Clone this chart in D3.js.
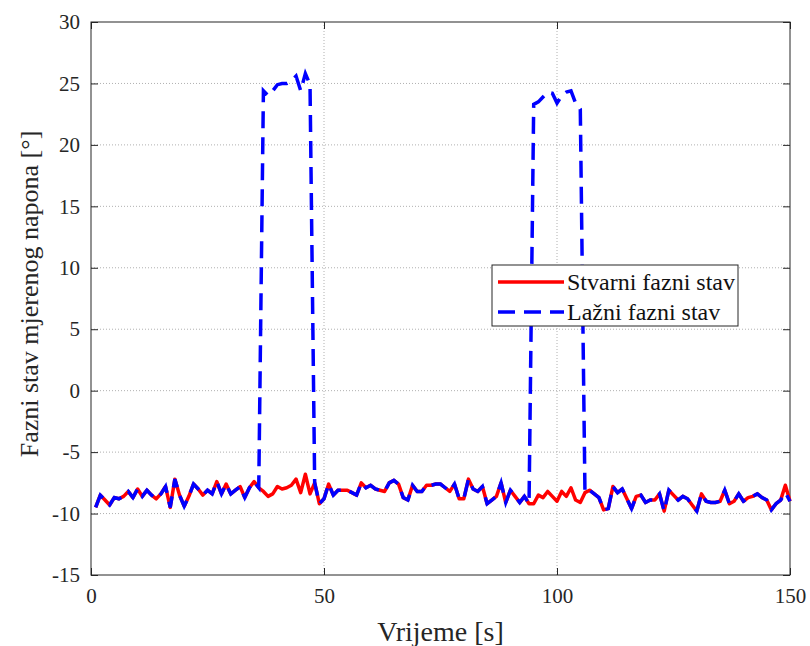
<!DOCTYPE html>
<html><head><meta charset="utf-8">
<script src="https://cdn.jsdelivr.net/npm/d3@7"></script>
<style>body{margin:0;background:#fff}svg{display:block}</style>
</head><body>
<script>
// time samples [s]
const times = [
 1,2,3,4,5,6,7,8,9,10,11,12,13,14,15,16,17,18,19,20,21,22,23,24,25,26,27,28,29,30,
 31,32,33,34,35,36,37,38,39,40,41,42,43,44,45,46,47,48,49,50,51,52,53,54,55,56,57,58,59,60,
 61,62,63,64,65,66,67,68,69,70,71,72,73,74,75,76,77,78,79,80,81,82,83,84,85,86,87,88,89,90,
 91,92,93,94,95,96,97,98,99,100,101,102,103,104,105,106,107,108,109,110,111,112,113,114,115,116,117,118,119,120,
 121,122,123,124,125,126,127,128,129,130,131,132,133,134,135,136,137,138,139,140,141,142,143,144,145,146,147,148,149,150];
// Stvarni fazni stav (true phase angle)
const stvarni = [
 -9.5,-8.5,-8.9,-9.3,-8.7,-8.8,-8.6,-8.2,-8.7,-8.0,-8.6,-8.1,-8.5,-8.8,-8.4,-7.8,-9.5,-7.2,-8.5,-9.4,
 -8.6,-7.6,-8.0,-8.5,-8.1,-8.4,-7.4,-8.4,-7.6,-8.4,-8.1,-7.8,-8.7,-7.9,-7.4,-7.9,-8.2,-8.6,-8.4,-7.8,
 -8.0,-7.9,-7.7,-7.2,-8.3,-6.8,-8.4,-7.5,-9.2,-8.8,-7.6,-8.5,-8.1,-8.1,-8.1,-8.3,-8.5,-7.5,-7.9,-7.7,
 -8.0,-8.1,-8.2,-7.5,-7.3,-7.6,-8.7,-8.9,-7.7,-8.2,-8.2,-7.7,-7.7,-7.6,-7.6,-7.9,-8.2,-7.6,-8.8,-8.8,
 -7.2,-8.0,-8.2,-7.8,-9.2,-8.9,-8.6,-7.5,-9.1,-8.1,-8.6,-9.1,-8.6,-9.2,-9.2,-8.5,-8.7,-8.2,-8.6,-9.0,
 -8.2,-8.6,-7.9,-8.9,-9.1,-8.3,-8.1,-8.4,-8.7,-9.7,-9.6,-7.8,-8.3,-8.0,-8.8,-9.6,-8.6,-8.5,-9.1,-8.9,
 -8.9,-8.4,-9.8,-8.1,-8.5,-8.9,-8.6,-8.8,-9.3,-9.8,-8.4,-9.0,-9.1,-9.1,-9.0,-8.1,-9.2,-9.0,-8.4,-9.0,
 -8.7,-8.6,-8.4,-8.7,-8.9,-9.7,-9.2,-8.9,-7.7,-9.0];
// Lažni fazni stav (falsified phase angle)
const lazni = [
 -9.5,-8.5,-8.9,-9.3,-8.7,-8.8,-8.6,-8.2,-8.7,-8.0,-8.6,-8.1,-8.5,-8.8,-8.4,-7.8,-9.5,-7.2,-8.5,-9.4,
 -8.6,-7.6,-8.0,-8.5,-8.1,-8.4,-7.4,-8.4,-7.6,-8.4,-8.1,-7.8,-8.7,-7.9,-7.4,-7.9,24.4,24.0,24.4,24.9,
 25.0,25.0,25.2,25.6,24.4,25.8,24.9,-7.5,-9.2,-8.8,-7.6,-8.5,-8.1,-8.1,-8.1,-8.3,-8.5,-7.5,-7.9,-7.7,
 -8.0,-8.1,-8.2,-7.5,-7.3,-7.6,-8.7,-8.9,-7.7,-8.2,-8.2,-7.7,-7.7,-7.6,-7.6,-7.9,-8.2,-7.6,-8.8,-8.8,
 -7.2,-8.0,-8.2,-7.8,-9.2,-8.9,-8.6,-7.5,-9.1,-8.1,-8.6,-9.1,-8.6,-9.2,23.3,23.5,23.9,24.3,24.2,23.4,
 24.0,24.3,24.4,23.4,22.9,-8.3,-8.1,-8.4,-8.7,-9.7,-9.6,-7.8,-8.3,-8.0,-8.8,-9.6,-8.6,-8.5,-9.1,-8.9,
 -8.9,-8.4,-9.8,-8.1,-8.5,-8.9,-8.6,-8.8,-9.3,-9.8,-8.4,-9.0,-9.1,-9.1,-9.0,-8.1,-9.2,-9.0,-8.4,-9.0,
 -8.7,-8.6,-8.4,-8.7,-8.9,-9.7,-9.2,-8.9,-8.3,-9.0];
const xTicks = [0, 50, 100, 150];
const yTicks = [-15, -10, -5, 0, 5, 10, 15, 20, 25, 30];
const seriesNames = ["Stvarni fazni stav", "Lažni fazni stav"];
const xTitle = "Vrijeme [s]";
const yTitle = "Fazni stav mjerenog napona [°]";

const W = 810, H = 646;
const m = {left: 91, right: 20, top: 22, bottom: 71};
const iw = W - m.left - m.right, ih = H - m.top - m.bottom;
const font = "Liberation Serif";

const svg = d3.select("body").append("svg").attr("width", W).attr("height", H)
  .attr("font-family", font);
const g = svg.append("g").attr("transform", `translate(${m.left},${m.top})`);

const x = d3.scaleLinear().domain([0, 150]).range([0, iw]);
const y = d3.scaleLinear().domain([-15, 30]).range([ih, 0]);

// grid
g.append("g").selectAll("line").data(xTicks.slice(1, -1)).join("line")
  .attr("x1", d => x(d)).attr("x2", d => x(d)).attr("y1", 0).attr("y2", ih)
  .attr("stroke", "#b0b0b0").attr("stroke-width", 1).attr("stroke-dasharray", "1,2");
g.append("g").selectAll("line").data(yTicks.slice(1, -1)).join("line")
  .attr("y1", d => y(d)).attr("y2", d => y(d)).attr("x1", 0).attr("x2", iw)
  .attr("stroke", "#b0b0b0").attr("stroke-width", 1).attr("stroke-dasharray", "1,2");

// axes
const tickStyle = sel => {
  sel.attr("font-family", font).attr("font-size", 21);
  sel.select(".domain").remove();
  sel.selectAll(".tick line").attr("stroke", "#262626");
  sel.selectAll(".tick text").attr("fill", "#262626").attr("font-family", font);
};
g.append("g").attr("transform", `translate(0,${ih})`)
  .call(d3.axisBottom(x).tickValues(xTicks).tickSize(-7).tickPadding(13).tickFormat(d3.format("d")))
  .call(tickStyle);
g.append("g")
  .call(d3.axisLeft(y).tickValues(yTicks).tickSize(-7).tickPadding(11).tickFormat(d => d < 0 ? "-" + Math.abs(d) : d))
  .call(tickStyle);
g.append("g").call(d3.axisTop(x).tickValues(xTicks).tickSize(-7).tickFormat(""))
  .call(s => { s.select(".domain").remove(); s.selectAll(".tick line").attr("stroke", "#262626"); });
g.append("g").attr("transform", `translate(${iw},0)`)
  .call(d3.axisRight(y).tickValues(yTicks).tickSize(-7).tickFormat(""))
  .call(s => { s.select(".domain").remove(); s.selectAll(".tick line").attr("stroke", "#262626"); });

// box
g.append("rect").attr("width", iw).attr("height", ih).attr("fill", "none")
  .attr("stroke", "#262626").attr("stroke-width", 1);

// lines
const line = vals => d3.line().x((d, i) => x(times[i])).y(d => y(d))(vals);
g.append("path").attr("d", line(stvarni)).attr("fill", "none")
  .attr("stroke", "#ff0000").attr("stroke-width", 3.5).attr("stroke-linejoin", "round");
g.append("path").attr("d", line(lazni)).attr("fill", "none")
  .attr("stroke", "#0000ff").attr("stroke-width", 3.5).attr("stroke-dasharray", "17,9");

// axis titles
svg.append("text").attr("x", m.left + iw / 2).attr("y", 641).attr("text-anchor", "middle")
  .attr("font-family", font).attr("font-size", 28).attr("fill", "#262626").text(xTitle);
svg.append("text").attr("transform", `translate(38,294) rotate(-90)`)
  .attr("text-anchor", "middle").attr("font-family", font).attr("font-size", 26).attr("fill", "#262626").text(yTitle);

// legend
const lg = svg.append("g").attr("transform", "translate(492,265)");
lg.append("rect").attr("width", 246).attr("height", 61).attr("fill", "#fff")
  .attr("stroke", "#262626").attr("stroke-width", 1);
const items = [{c: "#ff0000", dash: null}, {c: "#0000ff", dash: "17,9"}];
items.forEach((it, i) => {
  const yy = 17 + i * 30;
  lg.append("line").attr("x1", 6).attr("x2", 72).attr("y1", yy).attr("y2", yy)
    .attr("stroke", it.c).attr("stroke-width", 3.5).attr("stroke-dasharray", it.dash);
  lg.append("text").attr("x", 75).attr("y", yy + 8).attr("font-family", font).attr("font-size", 24)
    .attr("fill", "#111").text(seriesNames[i]);
});
</script>
</body></html>
